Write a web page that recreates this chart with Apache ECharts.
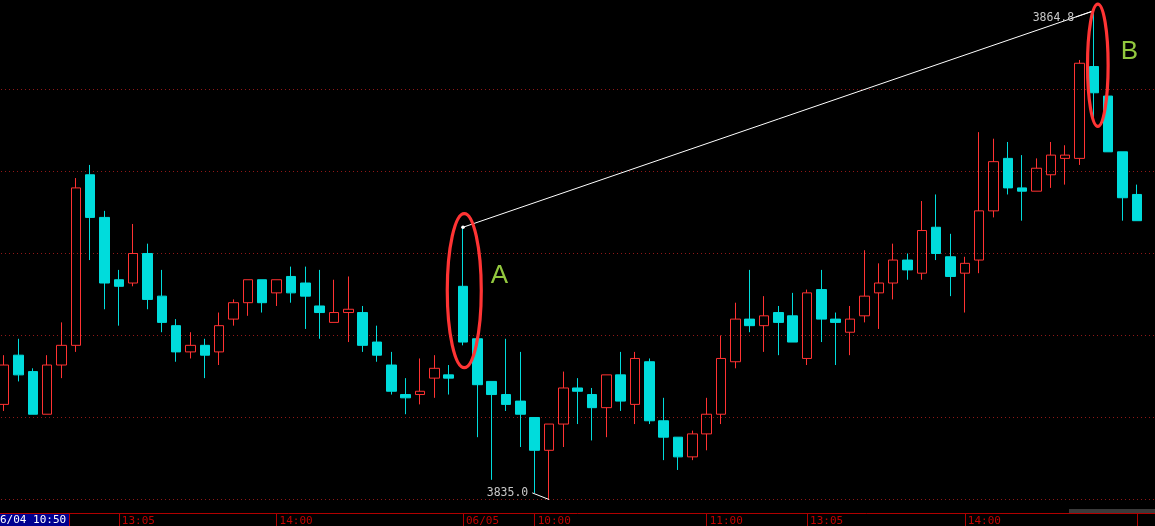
<!DOCTYPE html>
<html>
<head>
<meta charset="utf-8">
<script src="https://cdn.jsdelivr.net/npm/echarts@6/dist/echarts.min.js"></script>
<style>
html,body{margin:0;padding:0;background:#000;}
#c{width:1155px;height:526px;}
</style>
</head>
<body>
<div id="c"></div>
<script>
// ---- data (5-minute bars, 06/04 10:55 -> 06/05 15:00, plus an empty right margin slot) ----
const categories = [
 '10:55','11:00','11:05','11:10','11:15','11:20','11:25','11:30',
 '13:05','13:10','13:15','13:20','13:25','13:30','13:35','13:40','13:45','13:50','13:55','14:00',
 '14:05','14:10','14:15','14:20','14:25','14:30','14:35','14:40','14:45','14:50','14:55','15:00',
 '09:35','09:40','09:45','09:50','09:55','10:00','10:05','10:10','10:15','10:20','10:25','10:30',
 '10:35','10:40','10:45','10:50','10:55','11:00','11:05','11:10','11:15','11:20','11:25','11:30',
 '13:05','13:10','13:15','13:20','13:25','13:30','13:35','13:40','13:45','13:50','13:55','14:00',
 '14:05','14:10','14:15','14:20','14:25','14:30','14:35','14:40','14:45','14:50','14:55','15:00',
 ''
];
const openVals = [
 3840.8,3843.8,3842.8,3840.2,3843.2,3844.4,3854.8,3852.2,3848.4,3848.2,
 3850.0,3847.4,3845.6,3844.0,3844.4,3844.0,3846.0,3847.0,3848.4,3847.6,
 3848.6,3848.2,3846.8,3845.8,3846.4,3846.4,3844.6,3843.2,3841.4,3841.4,
 3842.4,3842.6,3848.0,3844.8,3842.2,3841.4,3841.0,3840.0,3838.0,3839.6,
 3841.8,3841.4,3840.6,3842.6,3840.8,3843.4,3839.8,3838.8,3837.6,3839.0,
 3840.2,3843.4,3846.0,3845.6,3846.4,3846.2,3843.6,3847.8,3846.0,3845.2,
 3846.2,3847.6,3848.2,3849.6,3848.8,3851.6,3849.8,3848.8,3849.6,3852.6,
 3855.8,3854.0,3853.8,3854.8,3855.8,3855.8,3861.4,3859.6,3856.2,3853.6
];
const closeVals = [
 3843.2,3842.6,3840.2,3843.2,3844.4,3854.0,3852.2,3848.2,3848.0,3850.0,
 3847.2,3845.8,3844.0,3844.4,3843.8,3845.6,3847.0,3848.4,3847.0,3848.4,
 3847.6,3847.4,3846.4,3846.4,3846.6,3844.4,3843.8,3841.6,3841.2,3841.6,
 3843.0,3842.4,3844.6,3842.0,3841.4,3840.8,3840.2,3838.0,3839.6,3841.8,
 3841.6,3840.6,3842.6,3841.0,3843.6,3839.8,3838.8,3837.6,3839.0,3840.2,
 3843.6,3846.0,3845.6,3846.2,3845.8,3844.6,3847.6,3846.0,3845.8,3846.0,
 3847.4,3848.2,3849.6,3849.0,3851.4,3850.0,3848.6,3849.4,3852.6,3855.6,
 3854.0,3853.8,3855.2,3856.0,3856.0,3861.6,3859.8,3856.2,3853.4,3852.0
];
const lowVals = [
 3840.4,3842.2,3840.2,3840.2,3842.4,3844.0,3849.6,3846.6,3845.6,3848.0,
 3846.6,3845.2,3843.4,3843.6,3842.4,3843.2,3845.6,3846.2,3846.4,3846.8,
 3847.0,3845.4,3844.8,3845.8,3844.6,3844.0,3843.4,3841.4,3840.2,3840.8,
 3841.2,3841.4,3844.4,3838.8,3836.2,3840.4,3838.2,3835.4,3835.0,3838.2,
 3839.6,3838.6,3838.8,3840.4,3839.6,3839.6,3837.4,3836.8,3837.4,3838.0,
 3839.6,3843.0,3845.2,3844.0,3843.8,3844.6,3843.2,3844.6,3843.2,3843.8,
 3845.8,3845.4,3847.2,3848.4,3848.4,3849.6,3847.4,3846.4,3848.8,3852.2,
 3853.6,3852.0,3853.8,3854.0,3854.2,3855.4,3858.2,3856.2,3852.0,3852.0
];
const highVals = [
 3843.8,3844.8,3843.0,3843.8,3845.8,3854.6,3855.4,3852.6,3849.0,3851.8,
 3850.6,3849.0,3846.0,3845.2,3844.8,3846.4,3847.2,3848.4,3848.4,3848.4,
 3849.2,3849.2,3849.0,3848.4,3848.6,3846.8,3845.6,3844.0,3842.4,3843.6,
 3843.8,3843.2,3851.6,3844.8,3842.2,3844.8,3844.0,3840.0,3839.6,3842.8,
 3842.4,3841.8,3842.6,3844.0,3844.0,3843.6,3841.2,3838.8,3839.2,3841.2,
 3845.0,3847.0,3849.0,3847.4,3846.8,3847.6,3847.8,3849.0,3846.4,3846.8,
 3850.2,3849.4,3850.6,3850.0,3853.2,3853.6,3851.2,3849.8,3857.4,3857.0,
 3856.8,3856.0,3855.8,3856.8,3856.6,3861.8,3864.8,3859.6,3856.2,3854.2
];
const tickIndex  = [8, 19, 32, 37, 49, 56, 67, 79];
const tickLabels = ['13:05','14:00','06/05','10:00','11:00','13:05','14:00',''];
const gridLevels = [3835, 3840, 3845, 3850, 3855, 3860];
const markedBars  = [32, 76];
const markedNames = ['A', 'B'];
const cursorLabel = '6/04 10:50';

// ---- chart ----
const Y_MAX = 3865.4573, Y_MIN = 3834.1463;
const candleData = openVals.map((o, i) => [o, closeVals[i], lowVals[i], highVals[i]]);

const chart = echarts.init(document.getElementById('c'), null, {renderer: 'canvas'});
chart.setOption({
  backgroundColor: '#000000',
  animation: false,
  grid: {left: -3, right: -3.34, top: 0, bottom: 12.5, containLabel: false, outerBoundsMode: 'none'},
  xAxis: {
    type: 'category', data: categories, boundaryGap: true,
    axisLine: {show: true, onZero: false, lineStyle: {color: '#b00000', width: 1}},
    axisTick: {show: true, alignWithLabel: true, length: 13,
      interval: (i) => tickIndex.includes(i), lineStyle: {color: '#b00000', width: 1}},
    axisLabel: {show: true, interval: (i) => tickIndex.includes(i),
      formatter: (v, i) => { const k = tickIndex.indexOf(i); return k >= 0 ? tickLabels[k] : ''; },
      align: 'left', verticalAlign: 'top', margin: 2, padding: [0, 0, 0, 3],
      color: '#c00000', fontFamily: 'DejaVu Sans Mono', fontSize: 11},
    splitLine: {show: false}
  },
  yAxis: {type: 'value', min: Y_MIN, max: Y_MAX, show: false, splitLine: {show: false}},
  series: [{
    type: 'candlestick', data: candleData, barWidth: 10, silent: true,
    emphasis: {disabled: true},
    itemStyle: {color: 'transparent', color0: '#00dcdc', borderColor: '#ff3232', borderColor0: '#00dcdc', borderWidth: 1},
    markLine: {
      silent: true, z: 1, symbol: ['none', 'none'], label: {show: false},
      emphasis: {disabled: true},
      lineStyle: {color: '#901818', type: [1, 3], width: 1},
      data: gridLevels.map(v => ({yAxis: v}))
    }
  }]
});

// ---- annotations placed through the chart's own scales ----
const px = (i, v) => chart.convertToPixel({seriesIndex: 0}, [i, v]);
const g = [];
const Z = 20;

// line joining the two marked highs
const pA = px(markedBars[0], highVals[markedBars[0]]);
const pB = px(markedBars[1], highVals[markedBars[1]]);
g.push({type: 'line', z: Z, shape: {x1: pA[0], y1: pA[1], x2: pB[0], y2: pB[1]}, style: {stroke: '#ffffff', lineWidth: 1}});
g.push({type: 'circle', z: Z, shape: {cx: pA[0], cy: pA[1], r: 1.8}, style: {fill: '#ffffff'}});

// ellipses + letters
const ellDx = [1.3, 4], ellDy = [4.3, 0.3], ellRx = [17, 10.3], ellPad = [18, 7];
const letDx = [27.7, 27], letDy = [-15, -13.3];
markedBars.forEach((bi, k) => {
  const t = px(bi, highVals[bi]), b = px(bi, lowVals[bi]);
  const cx = t[0] + ellDx[k], cy = (t[1] + b[1]) / 2 + ellDy[k];
  const ry = (b[1] - t[1]) / 2 + ellPad[k];
  g.push({type: 'ellipse', z: Z + 1, shape: {cx: cx, cy: cy, rx: ellRx[k], ry: ry},
    style: {fill: 'transparent', stroke: '#ff3434', lineWidth: 3.2}});
  g.push({type: 'text', z: Z + 1, x: t[0] + letDx[k], y: cy + letDy[k],
    style: {text: markedNames[k], fill: '#92c83e', font: '26px "Liberation Sans", Arial, sans-serif', align: 'left', verticalAlign: 'middle'}});
});

// max / min value tags
const maxV = Math.max(...highVals), iMax = highVals.indexOf(maxV);
const minV = Math.min(...lowVals), iMin = lowVals.indexOf(minV);
const pMax = px(iMax, maxV), pMin = px(iMin, minV);
const tagFont = '11.5px "DejaVu Sans Mono", monospace';
g.push({type: 'text', z: Z, x: pMax[0] - 19.6, y: pMax[1] + 7.3,
  style: {text: maxV.toFixed(1), fill: '#c8c8c8', font: tagFont, align: 'right', verticalAlign: 'middle'}});
g.push({type: 'line', z: Z, shape: {x1: pMax[0] - 18, x2: pMax[0], y1: pMax[1] + 6.2, y2: pMax[1]}, style: {stroke: '#ffffff', lineWidth: 1}});
g.push({type: 'text', z: Z, x: pMin[0] - 20.7, y: pMin[1] - 6.8,
  style: {text: minV.toFixed(1), fill: '#c8c8c8', font: tagFont, align: 'right', verticalAlign: 'middle'}});
g.push({type: 'line', z: Z, shape: {x1: pMin[0] - 16.7, x2: pMin[0], y1: pMin[1] - 6.6, y2: pMin[1]}, style: {stroke: '#ffffff', lineWidth: 1}});

// cursor time tag, scrollbar stub
g.push({type: 'rect', z: Z, shape: {x: 0, y: 514, width: 69, height: 12}, style: {fill: '#000090'}});
g.push({type: 'text', z: Z + 1, x: 0, y: 515, style: {text: cursorLabel, fill: '#ffffff', font: '11px "DejaVu Sans Mono", monospace', align: 'left', verticalAlign: 'top'}});
g.push({type: 'line', z: Z, shape: {x1: 69.5, y1: 514, x2: 69.5, y2: 526}, style: {stroke: '#b00000', lineWidth: 1}});
g.push({type: 'rect', z: Z, shape: {x: 1069, y: 509, width: 86, height: 4}, style: {fill: '#3a3a3a'}});

chart.setOption({graphic: {elements: g}});
</script>
</body>
</html>
